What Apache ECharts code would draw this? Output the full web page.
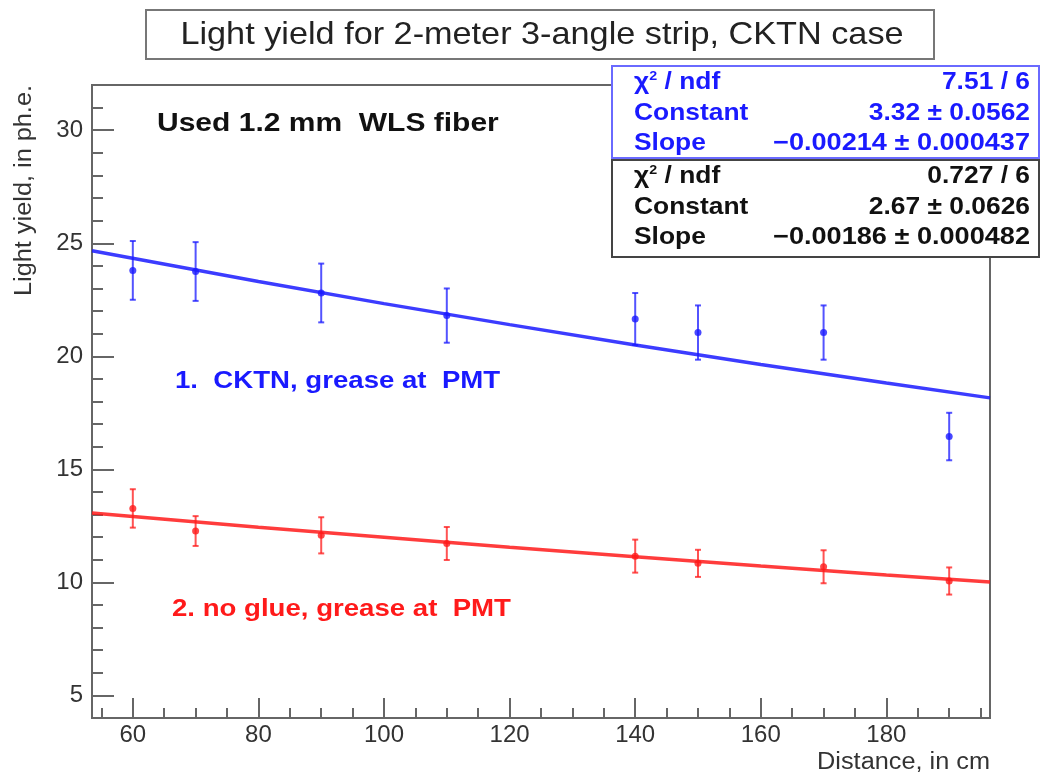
<!DOCTYPE html>
<html>
<head>
<meta charset="utf-8">
<title>Light yield, 2-meter 3-angle strip</title>
<script src="https://cdn.jsdelivr.net/npm/echarts/dist/echarts.min.js"></script>
<style>
  html, body { margin: 0; padding: 0; background: #fff; }
  #main { width: 1042px; height: 777px; }
</style>
</head>
<body>
<div id="main"></div>
<script>
// measured points (distance along the strip, cm)
var distances = [60, 70, 90, 110, 140, 150, 170, 190]

// 1. CKTN, grease at PMT
var ycktn = [23.8, 23.75, 22.8, 21.8, 21.65, 21.05, 21.05, 16.45]
var ycktnErr = [1.3, 1.3, 1.3, 1.2, 1.15, 1.2, 1.2, 1.05]

// 2. no glue, grease at PMT
var yglue = [13.27, 12.27, 12.08, 11.72, 11.16, 10.84, 10.69, 10.06]
var yglueErr = [0.85, 0.66, 0.8, 0.73, 0.73, 0.6, 0.73, 0.6]

// fitted curves
var fitX = [53.5, 80, 100, 120, 140, 160, 180, 196.5]
var fitCktn = [24.67, 23.31, 22.33, 21.4, 20.5, 19.64, 18.82, 18.16]
var fitGlue = [13.07, 12.44, 11.99, 11.55, 11.13, 10.72, 10.33, 10.02]

// axis ticks
var xMajor = [60, 80, 100, 120, 140, 160, 180]
var xMinor = [55, 60, 65, 70, 75, 80, 85, 90, 95, 100, 105, 110, 115, 120, 125, 130, 135, 140, 145, 150, 155, 160, 165, 170, 175, 180, 185, 190, 195]
var yMajor = [5, 10, 15, 20, 25, 30]
var yMinor = [4, 5, 6, 7, 8, 9, 10, 11, 12, 13, 14, 15, 16, 17, 18, 19, 20, 21, 22, 23, 24, 25, 26, 27, 28, 29, 30, 31, 32]

// fit results shown in the stat boxes
var statCktn = ['7.51 / 6', '3.32 \u00b1 0.0562', '\u22120.00214 \u00b1 0.000437']
var statGlue = ['0.727 / 6', '2.67 \u00b1 0.0626', '\u22120.00186 \u00b1 0.000482']

var BLUE = '#1a1aff'
var RED = '#ff1a1a'
var AXIS = '#666'
var FONT = '"Liberation Sans", Arial, sans-serif'

function pairs(xs, ys) {
  return xs.map(function (x, i) { return [x, ys[i]] })
}

function errorSeries(ys, errs, color) {
  return {
    type: 'custom',
    xAxisIndex: 0,
    yAxisIndex: 0,
    z: 3,
    data: distances.map(function (x, i) { return [x, ys[i], errs[i]] }),
    renderItem: function (params, api) {
      var x = api.value(0)
      var y = api.value(1)
      var e = api.value(2)
      var hi = api.coord([x, y + e])
      var lo = api.coord([x, y - e])
      var st = { stroke: color, lineWidth: 2, opacity: 0.75 }
      return {
        type: 'group',
        children: [
          { type: 'line', shape: { x1: hi[0], y1: hi[1], x2: lo[0], y2: lo[1] }, style: st },
          { type: 'line', shape: { x1: hi[0] - 3, y1: hi[1], x2: hi[0] + 3, y2: hi[1] }, style: st },
          { type: 'line', shape: { x1: lo[0] - 3, y1: lo[1], x2: lo[0] + 3, y2: lo[1] }, style: st }
        ]
      }
    }
  }
}

function label(text, x, y, opts) {
  opts = opts || {}
  return {
    type: 'text',
    x: x,
    y: y,
    z: 100,
    rotation: opts.rotation || 0,
    scaleX: opts.scaleX || 1.1,
    style: {
      text: text,
      font: (opts.weight || 'normal') + ' ' + (opts.size || 22) + 'px ' + FONT,
      fill: opts.color || '#111',
      textAlign: opts.align || 'left',
      textVerticalAlign: 'middle',
      rich: opts.rich
    }
  }
}

function statBox(top, height, color, values) {
  var rows = [top + 16, top + 47, top + 77]
  var chiRich = {
    c: { font: 'bold 24px ' + FONT, fill: color },
    s: { font: 'bold 13px ' + FONT, fill: color, verticalAlign: 'top', padding: [0, 0, 10, 0] }
  }
  return [
    {
      type: 'rect', z: 90,
      shape: { x: 612, y: top, width: 427, height: height },
      style: { fill: '#fff', stroke: color === BLUE ? '#6a6aff' : '#444', lineWidth: 2 }
    },
    label('{c|\u03c7}{s|2}{c| / ndf}', 634, rows[0], { weight: 'bold', size: 24, color: color, rich: chiRich }),
    label('Constant', 634, rows[1], { weight: 'bold', size: 24, color: color }),
    label('Slope', 634, rows[2], { weight: 'bold', size: 24, color: color }),
    label(values[0], 1030, rows[0], { weight: 'bold', size: 24, color: color, align: 'right' }),
    label(values[1], 1030, rows[1], { weight: 'bold', size: 24, color: color, align: 'right' }),
    label(values[2], 1030, rows[2], { weight: 'bold', size: 24, color: color, align: 'right', scaleX: 1.13 })
  ]
}

var chart = echarts.init(document.getElementById('main'), null, { renderer: 'canvas' })

var option = {
  animation: false,
  backgroundColor: '#fff',
  grid: {
    left: 92,
    right: 52,
    top: 85,
    bottom: 59,
    show: true,
    borderColor: AXIS,
    borderWidth: 2
  },
  xAxis: [
    {
      type: 'value',
      position: 'bottom',
      min: 53.5,
      max: 196.5,
      axisLine: { show: true, lineStyle: { color: AXIS, width: 2 } },
      axisTick: { show: true, inside: true, length: 20, customValues: xMajor, lineStyle: { color: AXIS, width: 2 } },
      axisLabel: { customValues: xMajor, fontSize: 24, color: '#333', fontFamily: FONT, margin: 5 },
      splitLine: { show: false }
    },
    {
      type: 'value',
      position: 'bottom',
      min: 53.5,
      max: 196.5,
      axisLine: { show: false },
      axisTick: { show: true, inside: true, length: 10, customValues: xMinor, lineStyle: { color: AXIS, width: 2 } },
      axisLabel: { show: false },
      splitLine: { show: false }
    }
  ],
  yAxis: [
    {
      type: 'value',
      position: 'left',
      min: 4,
      max: 32,
      axisLine: { show: true, lineStyle: { color: AXIS, width: 2 } },
      axisTick: { show: true, inside: true, length: 22, customValues: yMajor, lineStyle: { color: AXIS, width: 2 } },
      axisLabel: { customValues: yMajor, fontSize: 24, color: '#333', fontFamily: FONT, margin: 9 },
      splitLine: { show: false }
    },
    {
      type: 'value',
      position: 'left',
      min: 4,
      max: 32,
      axisLine: { show: false },
      axisTick: { show: true, inside: true, length: 11, customValues: yMinor, lineStyle: { color: AXIS, width: 2 } },
      axisLabel: { show: false },
      splitLine: { show: false }
    }
  ],
  series: [
    {
      name: 'fit CKTN',
      type: 'line',
      data: pairs(fitX, fitCktn),
      showSymbol: false,
      lineStyle: { color: BLUE, width: 3.5, opacity: 0.85 },
      z: 2
    },
    {
      name: 'fit no glue',
      type: 'line',
      data: pairs(fitX, fitGlue),
      showSymbol: false,
      lineStyle: { color: RED, width: 3.5, opacity: 0.85 },
      z: 2
    },
    errorSeries(ycktn, ycktnErr, BLUE),
    errorSeries(yglue, yglueErr, RED),
    {
      name: '1. CKTN, grease at PMT',
      type: 'scatter',
      data: pairs(distances, ycktn),
      symbol: 'circle',
      symbolSize: 7,
      itemStyle: { color: BLUE },
      z: 4
    },
    {
      name: '2. no glue, grease at PMT',
      type: 'scatter',
      data: pairs(distances, yglue),
      symbol: 'circle',
      symbolSize: 7,
      itemStyle: { color: RED },
      z: 4
    }
  ],
  graphic: [
    // title box
    {
      type: 'rect', z: 90,
      shape: { x: 146, y: 10, width: 788, height: 49 },
      style: { fill: '#fff', stroke: '#777', lineWidth: 2 }
    },
    label('Light yield for 2-meter 3-angle strip, CKTN case', 542, 35, { size: 32, color: '#222', align: 'center', scaleX: 1.07 }),
    // axis titles
    label('Light yield, in ph.e.', 25, 85, { size: 23, color: '#333', align: 'right', rotation: Math.PI / 2 }),
    label('Distance, in cm', 990, 763, { size: 23, color: '#333', align: 'right' }),
    // annotations
    label('Used 1.2 mm  WLS fiber', 157, 124, { weight: 'bold', size: 25, color: '#111', scaleX: 1.2 }),
    label('1.  CKTN, grease at  PMT', 175, 381, { weight: 'bold', size: 24, color: BLUE, scaleX: 1.15 }),
    label('2. no glue, grease at  PMT', 172, 609, { weight: 'bold', size: 24, color: RED, scaleX: 1.15 })
  ]
    .concat(statBox(66, 92, BLUE, statCktn))
    .concat(statBox(160, 97, '#111', statGlue))
}

chart.setOption(option)
</script>
</body>
</html>
